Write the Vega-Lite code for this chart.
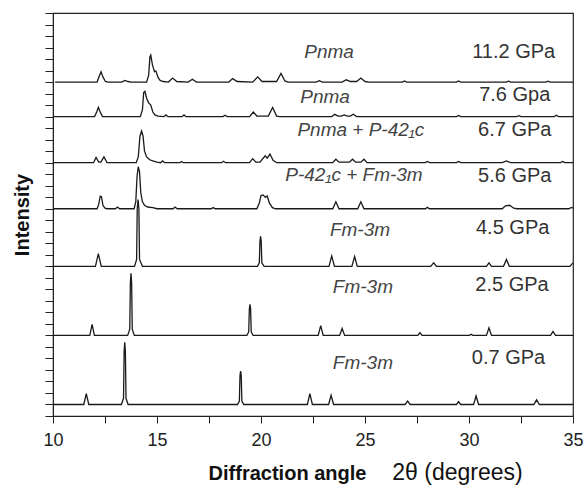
{
  "$schema": "https://vega.github.io/schema/vega-lite/v6.json",
  "description": "Stacked X-ray diffraction patterns at increasing pressure.",
  "width": 520,
  "height": 403,
  "autosize": {"type": "none"},
  "padding": {"left": 53, "top": 13, "right": 11, "bottom": 69},
  "config": {
    "font": "Liberation Sans",
    "view": {"stroke": "#222", "strokeWidth": 1.2},
    "axis": {"domainColor": "#222", "tickColor": "#222", "grid": false, "labelColor": "#222", "titleColor": "#111"}
  },
  "datasets": {
    "traces": [
      {"p":"0.7","t":10,"i":1},{"p":"0.7","t":11.48,"i":1},{"p":"0.7","t":11.6,"i":1.95},{"p":"0.7","t":11.72,"i":1},
      {"p":"0.7","t":13.29,"i":1},{"p":"0.7","t":13.39,"i":1.54},{"p":"0.7","t":13.42,"i":5.6},{"p":"0.7","t":13.45,"i":6.4},{"p":"0.7","t":13.48,"i":5.6},{"p":"0.7","t":13.51,"i":1.54},{"p":"0.7","t":13.61,"i":1},
      {"p":"0.7","t":18.87,"i":1},{"p":"0.7","t":18.96,"i":1.3},{"p":"0.7","t":18.99,"i":3.5},{"p":"0.7","t":19.02,"i":3.9},{"p":"0.7","t":19.05,"i":3.5},{"p":"0.7","t":19.08,"i":1.3},{"p":"0.7","t":19.17,"i":1},
      {"p":"0.7","t":22.23,"i":1},{"p":"0.7","t":22.35,"i":1.95},{"p":"0.7","t":22.47,"i":1},
      {"p":"0.7","t":23.25,"i":1},{"p":"0.7","t":23.37,"i":1.8},{"p":"0.7","t":23.49,"i":1},
      {"p":"0.7","t":26.93,"i":1},{"p":"0.7","t":27.05,"i":1.3},{"p":"0.7","t":27.17,"i":1},
      {"p":"0.7","t":29.4,"i":1},{"p":"0.7","t":29.5,"i":1.25},{"p":"0.7","t":29.6,"i":1},
      {"p":"0.7","t":30.22,"i":1},{"p":"0.7","t":30.34,"i":1.75},{"p":"0.7","t":30.46,"i":1},
      {"p":"0.7","t":33.12,"i":1},{"p":"0.7","t":33.25,"i":1.4},{"p":"0.7","t":33.38,"i":1},{"p":"0.7","t":35,"i":1},

      {"p":"2.5","t":10,"i":7},{"p":"2.5","t":11.77,"i":7},{"p":"2.5","t":11.88,"i":7.95},{"p":"2.5","t":11.99,"i":7},
      {"p":"2.5","t":13.59,"i":7},{"p":"2.5","t":13.69,"i":7.54},{"p":"2.5","t":13.72,"i":11.6},{"p":"2.5","t":13.75,"i":12.4},{"p":"2.5","t":13.78,"i":11.6},{"p":"2.5","t":13.81,"i":7.54},{"p":"2.5","t":13.91,"i":7},
      {"p":"2.5","t":19.32,"i":7},{"p":"2.5","t":19.41,"i":7.3},{"p":"2.5","t":19.44,"i":9.3},{"p":"2.5","t":19.47,"i":9.7},{"p":"2.5","t":19.5,"i":9.3},{"p":"2.5","t":19.53,"i":7.3},{"p":"2.5","t":19.62,"i":7},
      {"p":"2.5","t":22.75,"i":7},{"p":"2.5","t":22.87,"i":7.85},{"p":"2.5","t":22.99,"i":7},
      {"p":"2.5","t":23.78,"i":7},{"p":"2.5","t":23.9,"i":7.6},{"p":"2.5","t":24.02,"i":7},
      {"p":"2.5","t":27.54,"i":7},{"p":"2.5","t":27.64,"i":7.25},{"p":"2.5","t":27.74,"i":7},
      {"p":"2.5","t":30.02,"i":7},{"p":"2.5","t":30.1,"i":7.1},{"p":"2.5","t":30.18,"i":7},
      {"p":"2.5","t":30.84,"i":7},{"p":"2.5","t":30.96,"i":7.65},{"p":"2.5","t":31.08,"i":7},
      {"p":"2.5","t":33.92,"i":7},{"p":"2.5","t":34.04,"i":7.35},{"p":"2.5","t":34.16,"i":7},{"p":"2.5","t":35,"i":7},

      {"p":"4.5","t":10,"i":13},{"p":"4.5","t":12.04,"i":13},{"p":"4.5","t":12.18,"i":14.1},{"p":"4.5","t":12.32,"i":13},
      {"p":"4.5","t":13.92,"i":13},{"p":"4.5","t":14.02,"i":13.6},{"p":"4.5","t":14.05,"i":18.0},{"p":"4.5","t":14.09,"i":18.8},{"p":"4.5","t":14.13,"i":18.0},{"p":"4.5","t":14.16,"i":13.6},{"p":"4.5","t":14.3,"i":13},
      {"p":"4.5","t":19.83,"i":13},{"p":"4.5","t":19.92,"i":13.3},{"p":"4.5","t":19.95,"i":15.2},{"p":"4.5","t":19.98,"i":15.6},{"p":"4.5","t":20.01,"i":15.2},{"p":"4.5","t":20.04,"i":13.3},{"p":"4.5","t":20.15,"i":13},
      {"p":"4.5","t":23.27,"i":13},{"p":"4.5","t":23.4,"i":13.9},{"p":"4.5","t":23.53,"i":13},
      {"p":"4.5","t":24.37,"i":13},{"p":"4.5","t":24.5,"i":13.85},{"p":"4.5","t":24.63,"i":13},
      {"p":"4.5","t":28.16,"i":13},{"p":"4.5","t":28.3,"i":13.3},{"p":"4.5","t":28.44,"i":13},
      {"p":"4.5","t":30.84,"i":13},{"p":"4.5","t":30.96,"i":13.3},{"p":"4.5","t":31.08,"i":13},
      {"p":"4.5","t":31.66,"i":13},{"p":"4.5","t":31.8,"i":13.6},{"p":"4.5","t":31.94,"i":13},
      {"p":"4.5","t":34.85,"i":13},{"p":"4.5","t":35,"i":13.3},

      {"p":"5.6","t":10,"i":18},{"p":"5.6","t":12.12,"i":18},{"p":"5.6","t":12.2,"i":18.4},{"p":"5.6","t":12.27,"i":19.1},{"p":"5.6","t":12.33,"i":19.05},{"p":"5.6","t":12.4,"i":18.3},{"p":"5.6","t":12.5,"i":18.05},{"p":"5.6","t":12.6,"i":18},
      {"p":"5.6","t":13.0,"i":18},{"p":"5.6","t":13.1,"i":18.15},{"p":"5.6","t":13.2,"i":18},
      {"p":"5.6","t":13.9,"i":18},{"p":"5.6","t":13.98,"i":18.6},{"p":"5.6","t":14.04,"i":20.8},{"p":"5.6","t":14.1,"i":21.65},{"p":"5.6","t":14.16,"i":21.2},{"p":"5.6","t":14.22,"i":19.4},{"p":"5.6","t":14.3,"i":18.6},{"p":"5.6","t":14.4,"i":18.3},{"p":"5.6","t":14.55,"i":18.15},{"p":"5.6","t":14.8,"i":18.1},{"p":"5.6","t":15.0,"i":18},
      {"p":"5.6","t":15.77,"i":18},{"p":"5.6","t":15.87,"i":18.15},{"p":"5.6","t":15.97,"i":18},
      {"p":"5.6","t":17.6,"i":18},{"p":"5.6","t":17.7,"i":18.1},{"p":"5.6","t":17.8,"i":18},
      {"p":"5.6","t":19.8,"i":18},{"p":"5.6","t":19.92,"i":18.5},{"p":"5.6","t":20.0,"i":19.15},{"p":"5.6","t":20.1,"i":19.2},{"p":"5.6","t":20.2,"i":19.0},{"p":"5.6","t":20.3,"i":19.1},{"p":"5.6","t":20.4,"i":18.5},{"p":"5.6","t":20.55,"i":18.1},{"p":"5.6","t":20.7,"i":18},
      {"p":"5.6","t":23.45,"i":18},{"p":"5.6","t":23.6,"i":18.6},{"p":"5.6","t":23.75,"i":18},
      {"p":"5.6","t":24.65,"i":18},{"p":"5.6","t":24.8,"i":18.6},{"p":"5.6","t":24.95,"i":18},
      {"p":"5.6","t":27.9,"i":18},{"p":"5.6","t":28.0,"i":18.12},{"p":"5.6","t":28.1,"i":18},
      {"p":"5.6","t":31.6,"i":18},{"p":"5.6","t":31.75,"i":18.25},{"p":"5.6","t":31.95,"i":18.3},{"p":"5.6","t":32.15,"i":18.05},{"p":"5.6","t":32.3,"i":18},
      {"p":"5.6","t":34.8,"i":18},{"p":"5.6","t":34.92,"i":18.12},{"p":"5.6","t":35,"i":18.05},

      {"p":"6.7","t":10,"i":22},{"p":"6.7","t":11.95,"i":22},{"p":"6.7","t":12.07,"i":22.45},{"p":"6.7","t":12.2,"i":22.05},{"p":"6.7","t":12.3,"i":22.05},{"p":"6.7","t":12.45,"i":22.5},{"p":"6.7","t":12.6,"i":22},
      {"p":"6.7","t":14.0,"i":22},{"p":"6.7","t":14.1,"i":22.5},{"p":"6.7","t":14.18,"i":24.3},{"p":"6.7","t":14.26,"i":24.75},{"p":"6.7","t":14.33,"i":24.3},{"p":"6.7","t":14.4,"i":23.0},{"p":"6.7","t":14.5,"i":22.5},{"p":"6.7","t":14.65,"i":22.25},{"p":"6.7","t":14.8,"i":22.15},{"p":"6.7","t":15.0,"i":22.05},
      {"p":"6.7","t":15.17,"i":22},{"p":"6.7","t":15.27,"i":22.15},{"p":"6.7","t":15.37,"i":22},
      {"p":"6.7","t":16.1,"i":22},{"p":"6.7","t":16.18,"i":22.1},{"p":"6.7","t":16.26,"i":22},
      {"p":"6.7","t":18.1,"i":22},{"p":"6.7","t":18.2,"i":22.12},{"p":"6.7","t":18.3,"i":22},
      {"p":"6.7","t":19.45,"i":22},{"p":"6.7","t":19.6,"i":22.35},{"p":"6.7","t":19.75,"i":22.05},{"p":"6.7","t":19.95,"i":22.05},{"p":"6.7","t":20.2,"i":22.6},{"p":"6.7","t":20.3,"i":22.4},{"p":"6.7","t":20.43,"i":22.75},{"p":"6.7","t":20.58,"i":22.2},{"p":"6.7","t":20.75,"i":22},
      {"p":"6.7","t":23.45,"i":22},{"p":"6.7","t":23.6,"i":22.3},{"p":"6.7","t":23.75,"i":22.05},{"p":"6.7","t":24.25,"i":22.05},{"p":"6.7","t":24.4,"i":22.3},{"p":"6.7","t":24.55,"i":22.05},{"p":"6.7","t":24.8,"i":22.05},{"p":"6.7","t":24.95,"i":22.3},{"p":"6.7","t":25.1,"i":22},
      {"p":"6.7","t":27.9,"i":22},{"p":"6.7","t":28.0,"i":22.1},{"p":"6.7","t":28.1,"i":22},
      {"p":"6.7","t":29.4,"i":22},{"p":"6.7","t":29.5,"i":22.1},{"p":"6.7","t":29.6,"i":22},
      {"p":"6.7","t":31.6,"i":22},{"p":"6.7","t":31.8,"i":22.15},{"p":"6.7","t":32.0,"i":22},
      {"p":"6.7","t":34.4,"i":22},{"p":"6.7","t":34.5,"i":22.1},{"p":"6.7","t":34.6,"i":22},{"p":"6.7","t":35,"i":22},

      {"p":"7.6","t":10,"i":26},{"p":"7.6","t":12.0,"i":26},{"p":"7.6","t":12.1,"i":26.4},{"p":"7.6","t":12.18,"i":26.8},{"p":"7.6","t":12.27,"i":26.4},{"p":"7.6","t":12.38,"i":26},
      {"p":"7.6","t":14.2,"i":26},{"p":"7.6","t":14.3,"i":26.6},{"p":"7.6","t":14.36,"i":28.1},{"p":"7.6","t":14.42,"i":28.2},{"p":"7.6","t":14.5,"i":27.6},{"p":"7.6","t":14.6,"i":27.2},{"p":"7.6","t":14.7,"i":27.0},{"p":"7.6","t":14.8,"i":26.4},{"p":"7.6","t":14.9,"i":26.15},{"p":"7.6","t":15.05,"i":26.05},
      {"p":"7.6","t":15.33,"i":26},{"p":"7.6","t":15.43,"i":26.15},{"p":"7.6","t":15.53,"i":26},
      {"p":"7.6","t":16.2,"i":26},{"p":"7.6","t":16.3,"i":26.15},{"p":"7.6","t":16.4,"i":26},
      {"p":"7.6","t":18.17,"i":26},{"p":"7.6","t":18.27,"i":26.12},{"p":"7.6","t":18.37,"i":26},
      {"p":"7.6","t":19.45,"i":26},{"p":"7.6","t":19.63,"i":26.4},{"p":"7.6","t":19.8,"i":26.05},{"p":"7.6","t":20.35,"i":26.05},{"p":"7.6","t":20.56,"i":26.8},{"p":"7.6","t":20.75,"i":26.05},{"p":"7.6","t":20.9,"i":26},
      {"p":"7.6","t":23.4,"i":26},{"p":"7.6","t":23.55,"i":26.2},{"p":"7.6","t":23.7,"i":26.05},{"p":"7.6","t":23.85,"i":26.05},{"p":"7.6","t":24.0,"i":26.15},{"p":"7.6","t":24.15,"i":26.05},{"p":"7.6","t":24.3,"i":26.05},{"p":"7.6","t":24.43,"i":26.2},{"p":"7.6","t":24.6,"i":26},
      {"p":"7.6","t":29.4,"i":26},{"p":"7.6","t":29.5,"i":26.1},{"p":"7.6","t":29.6,"i":26},
      {"p":"7.6","t":32.3,"i":26},{"p":"7.6","t":32.4,"i":26.08},{"p":"7.6","t":32.5,"i":26},
      {"p":"7.6","t":34.1,"i":26},{"p":"7.6","t":34.2,"i":26.12},{"p":"7.6","t":34.3,"i":26},{"p":"7.6","t":35,"i":26},

      {"p":"11.2","t":10.1,"i":29},{"p":"11.2","t":12.12,"i":29},{"p":"11.2","t":12.22,"i":29.5},{"p":"11.2","t":12.31,"i":29.9},{"p":"11.2","t":12.4,"i":29.45},{"p":"11.2","t":12.52,"i":29.05},{"p":"11.2","t":12.65,"i":29},
      {"p":"11.2","t":13.3,"i":29},{"p":"11.2","t":13.46,"i":29.15},{"p":"11.2","t":13.6,"i":29.05},{"p":"11.2","t":13.75,"i":29},
      {"p":"11.2","t":14.5,"i":29},{"p":"11.2","t":14.6,"i":29.6},{"p":"11.2","t":14.66,"i":31.2},{"p":"11.2","t":14.7,"i":31.35},{"p":"11.2","t":14.78,"i":30.5},{"p":"11.2","t":14.88,"i":29.9},{"p":"11.2","t":14.95,"i":29.95},{"p":"11.2","t":15.05,"i":29.4},{"p":"11.2","t":15.15,"i":29.15},{"p":"11.2","t":15.3,"i":29.05},
      {"p":"11.2","t":15.55,"i":29},{"p":"11.2","t":15.75,"i":29.35},{"p":"11.2","t":15.95,"i":29.05},
      {"p":"11.2","t":16.5,"i":29},{"p":"11.2","t":16.7,"i":29.25},{"p":"11.2","t":16.9,"i":29},
      {"p":"11.2","t":18.45,"i":29},{"p":"11.2","t":18.64,"i":29.3},{"p":"11.2","t":18.85,"i":29.05},
      {"p":"11.2","t":19.6,"i":29},{"p":"11.2","t":19.84,"i":29.45},{"p":"11.2","t":20.05,"i":29.05},
      {"p":"11.2","t":20.75,"i":29.05},{"p":"11.2","t":20.96,"i":29.75},{"p":"11.2","t":21.15,"i":29.1},{"p":"11.2","t":21.3,"i":29},
      {"p":"11.2","t":22.65,"i":29},{"p":"11.2","t":22.8,"i":29.12},{"p":"11.2","t":22.95,"i":29},
      {"p":"11.2","t":23.9,"i":29},{"p":"11.2","t":24.1,"i":29.2},{"p":"11.2","t":24.3,"i":29.05},{"p":"11.2","t":24.6,"i":29.05},{"p":"11.2","t":24.8,"i":29.35},{"p":"11.2","t":25.0,"i":29.05},{"p":"11.2","t":25.2,"i":29},
      {"p":"11.2","t":26.8,"i":29},{"p":"11.2","t":26.9,"i":29.1},{"p":"11.2","t":27.0,"i":29},
      {"p":"11.2","t":29.4,"i":29},{"p":"11.2","t":29.5,"i":29.1},{"p":"11.2","t":29.6,"i":29},
      {"p":"11.2","t":31.8,"i":29},{"p":"11.2","t":31.9,"i":29.08},{"p":"11.2","t":32.0,"i":29},
      {"p":"11.2","t":33.7,"i":29},{"p":"11.2","t":33.8,"i":29.08},{"p":"11.2","t":33.9,"i":29},{"p":"11.2","t":35,"i":29}
    ],
    "phases": [
      {"label": "Pnma", "x": 23.27, "y": 31.6},
      {"label": "Pnma", "x": 23.08, "y": 27.7},
      {"label": "Pnma + P-42₁c", "x": 24.8, "y": 24.85},
      {"label": "P-42₁c + Fm-3m", "x": 24.47, "y": 20.9},
      {"label": "Fm-3m", "x": 24.76, "y": 16.15},
      {"label": "Fm-3m", "x": 24.9, "y": 11.2},
      {"label": "Fm-3m", "x": 24.9, "y": 4.6}
    ],
    "pressures": [
      {"label": "11.2 GPa", "x": 32.15, "y": 31.6},
      {"label": "7.6 Gpa", "x": 32.2, "y": 27.85},
      {"label": "6.7 GPa", "x": 32.2, "y": 24.85},
      {"label": "5.6 GPa", "x": 32.2, "y": 20.85},
      {"label": "4.5 GPa", "x": 32.1, "y": 16.3},
      {"label": "2.5 GPa", "x": 32.07, "y": 11.4},
      {"label": "0.7 GPa", "x": 31.9, "y": 5.0}
    ]
  },
  "layer": [
    {
      "data": {"name": "traces"},
      "mark": {"type": "line", "color": "#1a1a1a", "strokeWidth": 1.3},
      "encoding": {
        "x": {
          "field": "t",
          "type": "quantitative",
          "scale": {"domain": [10, 35], "nice": false},
          "axis": {
            "orient": "bottom",
            "values": [10, 12.5, 15, 17.5, 20, 22.5, 25, 27.5, 30, 32.5, 35],
            "labelExpr": "datum.value % 5 === 0 ? datum.label : ''",
            "tickSize": 7,
            "labelFontSize": 18,
            "labelPadding": 8,
            "labelFlush": false,
            "title": "Diffraction angle",
            "titleFontSize": 20,
            "titleFontWeight": "bold",
            "titleAnchor": null,
            "titleAlign": "center",
            "titleBaseline": "alphabetic",
            "titleX": 234,
            "titleY": 63
          }
        },
        "y": {
          "field": "i",
          "type": "quantitative",
          "title": "Intensity",
          "scale": {"domain": [0, 35], "nice": false},
          "axis": {
            "values": [0, 1, 2, 3, 4, 5, 6, 7, 8, 9, 10, 11, 12, 13, 14, 15, 16, 17, 18, 19, 20, 21, 22, 23, 24, 25, 26, 27, 28, 29, 30, 31, 32, 33, 34, 35],
            "labels": false,
            "tickSize": 8,
            "titleFontSize": 20,
            "titleFontWeight": "bold",
            "titlePadding": 12
          }
        },
        "detail": {"field": "p", "type": "nominal"}
      }
    },
    {
      "data": {"name": "phases"},
      "mark": {"type": "text", "fontSize": 19, "fontStyle": "italic", "fontWeight": "normal", "color": "#444", "align": "center", "baseline": "middle"},
      "encoding": {
        "x": {
          "field": "x",
          "type": "quantitative",
          "axis": {
            "orient": "bottom",
            "ticks": false,
            "labels": false,
            "domain": false,
            "title": "2θ (degrees)",
            "titleFontSize": 23,
            "titleFontWeight": "normal",
            "titleAnchor": null,
            "titleAlign": "center",
            "titleBaseline": "alphabetic",
            "titleX": 404,
            "titleY": 63
          }
        },
        "y": {
          "field": "y",
          "type": "quantitative",
          "title": "Intensity",
          "axis": {
            "values": [0, 1, 2, 3, 4, 5, 6, 7, 8, 9, 10, 11, 12, 13, 14, 15, 16, 17, 18, 19, 20, 21, 22, 23, 24, 25, 26, 27, 28, 29, 30, 31, 32, 33, 34, 35],
            "labels": false,
            "tickSize": 8,
            "titleFontSize": 20,
            "titleFontWeight": "bold",
            "titlePadding": 12
          }
        },
        "text": {"field": "label"}
      }
    },
    {
      "data": {"name": "pressures"},
      "mark": {"type": "text", "fontSize": 20, "fontWeight": "normal", "color": "#333", "align": "center", "baseline": "middle"},
      "encoding": {
        "x": {"field": "x", "type": "quantitative", "axis": null},
        "y": {
          "field": "y",
          "type": "quantitative",
          "title": "Intensity",
          "axis": {
            "values": [0, 1, 2, 3, 4, 5, 6, 7, 8, 9, 10, 11, 12, 13, 14, 15, 16, 17, 18, 19, 20, 21, 22, 23, 24, 25, 26, 27, 28, 29, 30, 31, 32, 33, 34, 35],
            "labels": false,
            "tickSize": 8,
            "titleFontSize": 20,
            "titleFontWeight": "bold",
            "titlePadding": 12
          }
        },
        "text": {"field": "label"}
      }
    }
  ],
  "resolve": {"axis": {"x": "independent"}}
}
